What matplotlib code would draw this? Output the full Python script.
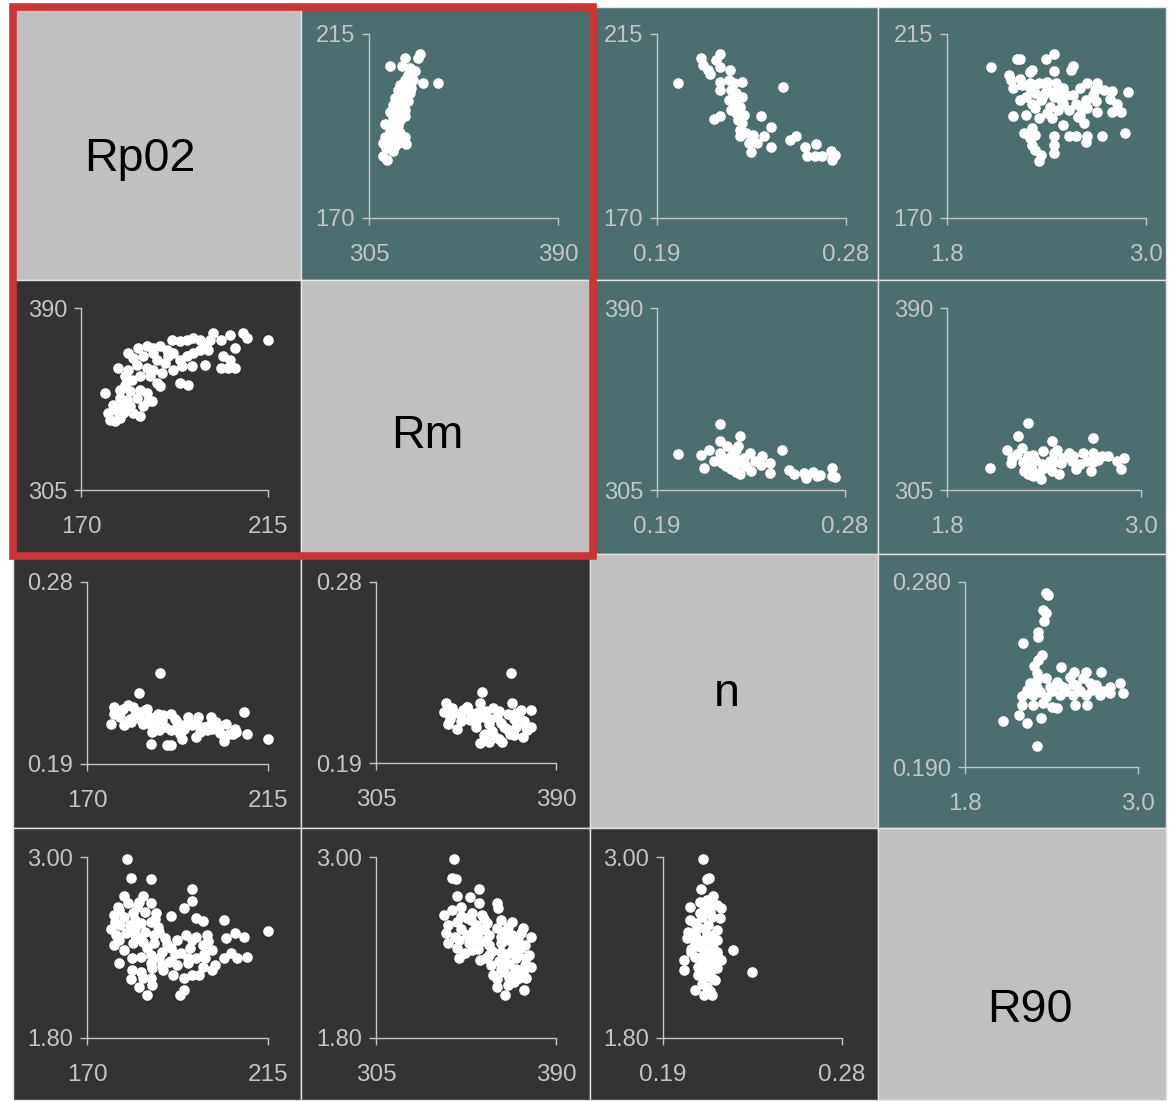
import matplotlib
matplotlib.use("Agg")
import matplotlib.pyplot as plt
from matplotlib.patches import Rectangle

plt.rcParams["font.family"] = ["Liberation Sans", "DejaVu Sans"]

# variables on the diagonal and their axis ranges
names = ["Rp02", "Rm", "n", "R90"]
lims = {"Rp02": (170, 215), "Rm": (305, 390), "n": (0.19, 0.28), "R90": (1.8, 3.0)}
xtick_text = {"Rp02": ["170", "215"], "Rm": ["305", "390"], "n": ["0.19", "0.28"], "R90": ["1.8", "3.0"]}
ytick_text = {"Rp02": ["170", "215"], "Rm": ["305", "390"], "n": ["0.19", "0.28"], "R90": ["1.80", "3.00"]}

# ---- panel data ----
# row Rp02
p01_rm = [327.8, 327.0, 321.0, 314.6, 320.0, 323.3, 325.5, 322.5, 321.0, 324.8,
          329.3, 336.0, 318.8, 321.8, 324.0, 318.0, 320.3, 323.3, 316.5, 319.5,
          322.5, 315.8, 318.8, 321.0, 314.3, 317.3, 321.0, 315.8, 312.0, 315.0,
          317.3, 314.3, 318.8, 312.0, 315.8, 321.0, 311.3, 315.0, 318.0, 321.8,
          312.8, 315.8, 311.3, 313.1, 316.5, 318.8, 318.0]
p01_rp02 = [210.1, 209.1, 209.2, 207.1, 207.1, 206.6, 206.0, 205.0, 203.8, 203.8,
            203.1, 203.1, 202.5, 202.1, 201.7, 201.3, 200.5, 200.5, 199.3, 198.9,
            198.5, 197.7, 197.3, 196.4, 196.0, 195.6, 195.0, 194.4, 193.0, 192.8,
            192.0, 191.2, 190.7, 189.9, 189.9, 189.9, 188.3, 188.7, 188.3, 188.1,
            187.1, 186.3, 185.2, 184.2, 187.5, 194.0, 192.4]

p02_n = [0.1999, 0.2109, 0.2118, 0.2145, 0.2153, 0.2180, 0.2198, 0.2201, 0.2247, 0.2198,
         0.2198, 0.2242, 0.2269, 0.2304, 0.2251, 0.2277, 0.2304, 0.2242, 0.2269, 0.2295,
         0.2251, 0.2277, 0.2313, 0.2171, 0.2201, 0.2304, 0.2393, 0.2442, 0.2295, 0.2322,
         0.2357, 0.2295, 0.2339, 0.2375, 0.2410, 0.2348, 0.2442, 0.2499, 0.2534, 0.2561,
         0.2605, 0.2614, 0.2658, 0.2650, 0.2685, 0.2729, 0.2738, 0.2747, 0.2733, 0.2277,
         0.2260, 0.2286]
p02_rp02 = [203.0, 209.2, 207.3, 206.1, 205.1, 208.7, 210.0, 206.9, 206.1, 203.3,
            201.3, 203.7, 202.9, 203.3, 201.3, 200.5, 199.7, 198.8, 198.0, 197.2,
            196.4, 195.6, 195.2, 194.2, 195.0, 193.2, 195.0, 192.2, 191.6, 190.8,
            190.4, 190.0, 188.3, 188.3, 190.0, 186.1, 187.3, 202.1, 189.1, 190.1,
            187.3, 185.1, 188.2, 185.1, 185.1, 186.3, 185.1, 185.5, 184.1, 198.8,
            199.7, 194.0]

p03_r90 = [2.067, 2.220, 2.243, 2.395, 2.445, 2.557, 2.546, 2.310, 2.299, 2.445,
           2.175, 2.186, 2.243, 2.198, 2.254, 2.299, 2.355, 2.400, 2.456, 2.501,
           2.602, 2.647, 2.703, 2.692, 2.748, 2.793, 2.894, 2.782, 2.827, 2.849,
           2.793, 2.703, 2.647, 2.636, 2.580, 2.557, 2.490, 2.445, 2.389, 2.333,
           2.276, 2.243, 2.310, 2.366, 2.422, 2.467, 2.535, 2.400, 2.333, 2.276,
           2.198, 2.355, 2.434, 2.501, 2.591, 2.625, 2.310, 2.265, 2.299, 2.333,
           2.310, 2.333, 2.366, 2.355, 2.445, 2.445, 2.445, 2.535, 2.580, 2.647,
           2.636, 2.737, 2.872, 2.602, 2.479,
           2.330, 2.400, 2.450, 2.520, 2.300, 2.370, 2.500, 2.600, 2.700, 2.680]
p03_rp02 = [206.9, 208.9, 208.9, 208.9, 210.2, 207.1, 206.1, 206.1, 205.7, 206.0,
            204.9, 203.7, 204.1, 201.9, 202.5, 202.9, 203.0, 203.3, 202.9, 201.9,
            201.9, 203.0, 202.9, 201.3, 201.3, 201.1, 200.9, 199.2, 198.0, 196.0,
            196.0, 196.0, 196.8, 198.8, 198.0, 200.1, 198.8, 199.7, 200.5, 200.5,
            199.7, 198.8, 198.0, 198.8, 197.2, 196.4, 196.4, 195.6, 196.8, 195.2,
            195.0, 194.4, 194.4, 192.8, 194.8, 193.2, 192.0, 190.8, 189.6, 190.4,
            187.9, 186.7, 185.5, 183.9, 190.0, 187.9, 185.9, 190.0, 190.0, 190.0,
            188.7, 190.0, 190.9, 195.2, 201.3,
            202.5, 201.5, 200.8, 200.2, 201.8, 199.4, 197.8, 197.5, 198.5, 200.0]

# row Rm
p10_rp02 = [215.0, 209.0, 210.0, 205.8, 203.8, 201.8, 201.0, 198.6, 197.0, 195.4,
            193.8, 191.8, 207.0, 204.2, 205.8, 203.8, 207.0, 205.4, 199.8, 200.6,
            198.6, 197.0, 195.4, 194.2, 196.6, 193.8, 195.8, 192.2, 190.6, 189.0,
            187.4, 185.8, 183.8, 181.4, 182.6, 179.0, 185.0, 188.2, 190.2, 192.2,
            189.4, 187.4, 185.8, 183.4, 181.4, 180.6, 182.2, 184.2, 186.6, 188.2,
            189.0, 180.6, 179.4, 181.8, 184.2, 185.8, 186.2, 187.0, 183.4, 181.0,
            179.4, 175.8, 177.8, 179.8, 181.8, 185.0, 184.2, 182.6, 180.2, 178.6,
            176.6, 177.0, 178.2, 179.4, 181.4, 191.0, 193.8, 200.2, 187.4]
p10_rm = [375.2, 378.3, 376.0, 377.6, 375.2, 378.3, 375.2, 375.2, 376.0, 375.2,
          374.4, 375.2, 371.3, 367.4, 365.9, 362.0, 362.0, 362.0, 363.5, 370.5,
          370.5, 369.0, 367.4, 362.8, 362.8, 355.0, 354.2, 369.0, 370.5, 372.1,
          371.3, 372.1, 371.3, 369.0, 366.7, 362.0, 367.4, 365.9, 364.3, 361.2,
          359.7, 361.2, 362.0, 363.5, 361.2, 358.1, 356.5, 358.1, 358.1, 355.0,
          353.4, 354.2, 351.9, 351.1, 351.9, 350.3, 346.4, 346.4, 348.0, 347.2,
          348.0, 350.3, 344.9, 344.1, 344.1, 344.1, 339.4, 341.0, 341.0, 341.7,
          341.0, 337.9, 337.1, 338.6, 342.5, 367.4, 365.9, 372.9, 369.0]

p12_n = [0.2000, 0.2111, 0.2125, 0.2150, 0.2173, 0.2200, 0.2200, 0.2200, 0.2209, 0.2236,
         0.2254, 0.2254, 0.2280, 0.2298, 0.2298, 0.2289, 0.2325, 0.2343, 0.2352, 0.2370,
         0.2405, 0.2397, 0.2441, 0.2441, 0.2500, 0.2530, 0.2557, 0.2602, 0.2611, 0.2646,
         0.2664, 0.2682, 0.2736, 0.2736, 0.2754, 0.2289, 0.2271, 0.2316,
         0.2215, 0.2240, 0.2265, 0.2230, 0.2310, 0.2280]
p12_rm = [322.0, 321.3, 315.1, 323.9, 318.5, 336.0, 327.8, 322.3, 317.7, 325.4,
          320.8, 314.6, 323.9, 330.1, 312.3, 319.2, 316.1, 322.3, 313.8, 318.5,
          320.8, 316.9, 317.4, 313.0, 323.9, 314.3, 312.3, 313.0, 310.7, 313.4,
          311.5, 311.8, 315.4, 311.5, 311.2, 325.4, 316.1, 320.0,
          320.0, 318.0, 322.0, 316.0, 317.0, 313.5]

p13_r90 = [2.069, 2.172, 2.195, 2.241, 2.299, 2.264, 2.299, 2.322, 2.333, 2.368,
           2.345, 2.391, 2.437, 2.448, 2.460, 2.448, 2.494, 2.506, 2.552, 2.575,
           2.598, 2.644, 2.667, 2.701, 2.701, 2.690, 2.736, 2.793, 2.851, 2.897,
           2.874, 2.414, 2.483, 2.230, 2.276, 2.379,
           2.200, 2.270, 2.330, 2.390, 2.460, 2.520, 2.580, 2.620, 2.700, 2.760,
           2.330, 2.300, 2.400]
p13_rm = [315.1, 323.9, 317.7, 330.1, 336.3, 324.7, 320.8, 316.1, 311.5, 313.0,
          319.2, 323.1, 318.5, 327.8, 322.3, 313.8, 312.3, 317.7, 322.3, 318.5,
          314.6, 322.3, 318.5, 329.3, 322.3, 313.8, 319.2, 320.8, 318.5, 320.0,
          314.9, 316.1, 323.9, 321.6, 313.8, 310.0,
          320.0, 318.0, 321.5, 317.0, 318.0, 320.0, 321.0, 317.0, 318.0, 321.0,
          314.0, 312.5, 315.5]

# row n
p20_rp02 = [188.1, 182.9, 175.9, 176.8, 176.8, 178.3, 179.2, 180.1, 181.5, 182.0,
            183.4, 184.3, 185.3, 186.2, 185.8, 187.6, 188.6, 189.5, 190.9, 190.9,
            192.3, 193.7, 194.2, 195.1, 196.1, 197.0, 197.5, 198.9, 200.8, 201.2,
            202.6, 204.0, 204.5, 205.4, 206.8, 206.4, 209.0, 209.9, 215.0, 186.0,
            190.0, 190.9, 180.6, 178.3, 186.7, 192.3, 199.8,
            179.0, 183.0, 187.0, 181.0, 184.0, 189.0, 192.0, 194.0, 197.0, 200.0,
            202.0, 203.0, 207.0, 188.0, 193.0, 198.0, 177.0, 185.0]
p20_n = [0.2348, 0.2249, 0.2099, 0.2182, 0.2149, 0.2133, 0.2091, 0.2191, 0.2182, 0.2141,
         0.2116, 0.2166, 0.2133, 0.2058, 0.2091, 0.2149, 0.2116, 0.2083, 0.2066, 0.2149,
         0.2108, 0.2025, 0.2074, 0.2133, 0.2091, 0.2033, 0.2133, 0.2083, 0.2133, 0.2074,
         0.2074, 0.2016, 0.2099, 0.2049, 0.2074, 0.2049, 0.2157, 0.2046, 0.2025, 0.2000,
         0.1996, 0.1996, 0.2124, 0.2157, 0.2099, 0.2074, 0.2066,
         0.2170, 0.2155, 0.2130, 0.2110, 0.2100, 0.2140, 0.2125, 0.2095, 0.2105, 0.2090,
         0.2110, 0.2055, 0.2060, 0.2070, 0.2050, 0.2060, 0.2160, 0.2170]

p21_rm = [368.8, 354.9, 337.2, 338.1, 340.8, 339.0, 343.4, 345.2, 347.9, 349.6,
          352.3, 353.2, 354.1, 355.8, 354.1, 356.7, 358.5, 360.3, 361.1, 362.0,
          364.7, 365.6, 367.3, 368.2, 369.1, 370.0, 370.9, 372.7, 373.5, 374.4,
          376.2, 378.0, 378.0, 358.5, 346.1, 351.4,
          342.0, 345.0, 350.0, 352.0, 357.0, 359.0, 363.0, 364.0, 367.0, 371.0,
          375.0, 360.0, 356.0, 363.0, 370.0, 376.0, 340.0, 348.0]
p21_n = [0.2349, 0.2251, 0.2154, 0.2196, 0.2171, 0.2095, 0.2070, 0.2137, 0.2179, 0.2112,
         0.2079, 0.2154, 0.2196, 0.2129, 0.1999, 0.2045, 0.2095, 0.2171, 0.2029, 0.2129,
         0.2004, 0.2079, 0.2145, 0.2045, 0.2196, 0.2120, 0.2079, 0.2129, 0.2162, 0.2029,
         0.2062, 0.2079, 0.2162, 0.2004, 0.2162, 0.2129,
         0.2150, 0.2110, 0.2150, 0.2110, 0.2160, 0.2120, 0.2160, 0.2100, 0.2070, 0.2150,
         0.2110, 0.2060, 0.2040, 0.2020, 0.2040, 0.2080, 0.2120, 0.2180]

p23_r90 = [2.361, 2.377, 2.342, 2.361, 2.347, 2.308, 2.308, 2.199, 2.331, 2.278,
           2.296, 2.469, 2.555, 2.638, 2.746, 2.250, 2.296, 2.365, 2.435, 2.527,
           2.619, 2.665, 2.573, 2.481, 2.389, 2.296, 2.227, 2.192, 2.273, 2.365,
           2.458, 2.550, 2.642, 2.735, 2.804, 2.873, 2.896, 2.804, 2.192, 2.273,
           2.342, 2.435, 2.400, 2.562, 2.647, 2.065, 2.176, 2.232, 2.324, 2.301,
           2.712, 2.308,
           2.250, 2.320, 2.400, 2.500, 2.600, 2.680, 2.760, 2.450, 2.550]
p23_n = [0.2746, 0.2738, 0.2665, 0.2648, 0.2608, 0.2559, 0.2531, 0.2505, 0.2445, 0.2391,
         0.2356, 0.2385, 0.2364, 0.2364, 0.2364, 0.2307, 0.2323, 0.2331, 0.2315, 0.2339,
         0.2331, 0.2307, 0.2299, 0.2291, 0.2291, 0.2282, 0.2274, 0.2245, 0.2250, 0.2242,
         0.2250, 0.2250, 0.2250, 0.2250, 0.2258, 0.2307, 0.2258, 0.2291, 0.2201, 0.2201,
         0.2209, 0.2185, 0.2193, 0.2201, 0.2201, 0.2123, 0.2152, 0.2112, 0.2136, 0.2003,
         0.2299, 0.2421,
         0.2260, 0.2265, 0.2268, 0.2270, 0.2272, 0.2275, 0.2270, 0.2300, 0.2305]

# row R90
p30_rp02 = [179.9, 180.9, 185.9, 196.1, 179.2, 183.9, 185.9, 196.1, 194.2, 177.8,
            180.1, 182.5, 176.8, 179.2, 181.5, 184.3, 187.2, 190.9, 197.0, 198.9,
            204.0, 175.9, 178.3, 180.6, 183.4, 185.8, 187.6, 177.3, 179.7, 182.0,
            184.3, 186.7, 176.8, 179.2, 181.5, 183.9, 186.7, 189.5, 192.3, 194.7,
            197.0, 199.8, 204.5, 206.8, 209.0, 215.0, 181.1, 183.4, 185.8, 188.6,
            190.9, 193.3, 195.6, 198.9, 201.2, 204.0, 205.9, 207.3, 209.9, 181.1,
            183.4, 186.2, 188.6, 191.4, 194.2, 196.1, 197.9, 198.9, 201.2, 201.7,
            182.9, 186.2, 185.0, 193.1, 194.0, 185.8, 190.4, 192.3, 197.0, 195.1,
            199.3,
            177.0, 182.0, 187.0, 178.0, 183.0, 178.0, 183.0, 188.0, 182.0, 185.0,
            190.0, 188.0, 191.0, 195.0, 199.0, 200.0, 196.0, 192.0, 186.0, 189.0,
            184.0, 181.0, 178.0]
p30_r90 = [2.985, 2.861, 2.853, 2.791, 2.742, 2.742, 2.692, 2.707, 2.663, 2.670,
           2.692, 2.670, 2.615, 2.604, 2.626, 2.637, 2.626, 2.610, 2.593, 2.575,
           2.582, 2.522, 2.549, 2.549, 2.560, 2.571, 2.538, 2.483, 2.494, 2.483,
           2.505, 2.483, 2.417, 2.384, 2.428, 2.439, 2.428, 2.461, 2.450, 2.483,
           2.472, 2.483, 2.461, 2.494, 2.472, 2.509, 2.328, 2.339, 2.351, 2.373,
           2.395, 2.362, 2.395, 2.417, 2.384, 2.328, 2.362, 2.328, 2.335, 2.251,
           2.240, 2.262, 2.284, 2.218, 2.196, 2.218, 2.218, 2.273, 2.251, 2.284,
           2.141, 2.152, 2.082, 2.082, 2.119, 2.196, 2.306, 2.284, 2.328, 2.295,
           2.328,
           2.570, 2.580, 2.590, 2.650, 2.700, 2.450, 2.460, 2.500, 2.530, 2.400,
           2.420, 2.330, 2.310, 2.330, 2.360, 2.440, 2.450, 2.360, 2.300, 2.250,
           2.200, 2.190, 2.300]

p31_rm = [342.0, 340.8, 342.9, 353.5, 343.4, 349.6, 353.5, 362.0, 362.4, 337.2,
          340.8, 345.2, 350.5, 354.9, 363.8, 369.1, 339.0, 343.4, 347.9, 352.3,
          357.6, 362.0, 367.3, 374.4, 378.0, 338.1, 342.5, 347.9, 353.2, 358.5,
          363.8, 369.1, 373.5, 339.0, 343.4, 348.7, 354.1, 358.5, 363.8, 369.1,
          375.3, 377.1, 344.3, 354.1, 358.5, 363.8, 369.1, 373.5, 359.4, 365.6,
          370.9, 375.3, 378.0, 360.3, 365.6, 370.0, 374.4, 362.0, 367.3, 372.7,
          365.9, 374.8, 347.0, 350.5,
          345.0, 350.0, 356.0, 345.0, 351.0, 356.0, 366.0, 372.0, 344.0, 351.0,
          357.0, 366.0, 372.0, 353.0, 360.0, 367.0, 372.0, 376.0, 363.0, 368.0,
          371.0, 364.0, 357.0, 368.0, 362.0, 376.0, 370.0]
p31_r90 = [2.985, 2.861, 2.853, 2.791, 2.742, 2.736, 2.692, 2.698, 2.659, 2.615,
           2.648, 2.670, 2.626, 2.615, 2.582, 2.566, 2.549, 2.571, 2.593, 2.549,
           2.560, 2.527, 2.538, 2.527, 2.472, 2.494, 2.472, 2.483, 2.494, 2.483,
           2.472, 2.483, 2.494, 2.428, 2.395, 2.428, 2.439, 2.417, 2.428, 2.439,
           2.417, 2.351, 2.328, 2.317, 2.351, 2.373, 2.384, 2.395, 2.284, 2.306,
           2.328, 2.284, 2.273, 2.218, 2.240, 2.229, 2.240, 2.141, 2.152, 2.196,
           2.082, 2.115, 2.362, 2.384,
           2.610, 2.580, 2.590, 2.520, 2.510, 2.520, 2.510, 2.460, 2.450, 2.450,
           2.450, 2.450, 2.420, 2.390, 2.380, 2.360, 2.350, 2.330, 2.310, 2.290,
           2.260, 2.260, 2.330, 2.200, 2.190, 2.200, 2.170]

p32_n = [0.2102, 0.2119, 0.2132, 0.2093, 0.2152, 0.2035, 0.2085, 0.2119, 0.2169, 0.2194,
         0.2035, 0.2085, 0.2135, 0.2186, 0.2026, 0.2077, 0.2127, 0.2169, 0.2021, 0.2068,
         0.2119, 0.2169, 0.2043, 0.2085, 0.2135, 0.2169, 0.2250, 0.2004, 0.2060, 0.2102,
         0.2152, 0.2194, 0.2004, 0.2077, 0.2119, 0.2169, 0.2349, 0.2077, 0.2119, 0.2161,
         0.2060, 0.2119, 0.2105, 0.2144, 0.2043, 0.2144,
         0.2095, 0.2145, 0.2060, 0.2110, 0.2150, 0.2090, 0.2130, 0.2060, 0.2110, 0.2150,
         0.2085, 0.2130, 0.2175, 0.2095, 0.2140, 0.2100, 0.2145, 0.2095, 0.2135, 0.2110,
         0.2150, 0.2060]
p32_r90 = [2.989, 2.857, 2.861, 2.791, 2.742, 2.670, 2.703, 2.714, 2.681, 2.659,
           2.582, 2.626, 2.637, 2.593, 2.505, 2.538, 2.549, 2.516, 2.461, 2.472,
           2.483, 2.450, 2.390, 2.406, 2.417, 2.373, 2.384, 2.317, 2.339, 2.339,
           2.351, 2.317, 2.251, 2.273, 2.284, 2.262, 2.240, 2.218, 2.218, 2.185,
           2.119, 2.141, 2.082, 2.082, 2.373, 2.306,
           2.600, 2.600, 2.560, 2.520, 2.480, 2.440, 2.450, 2.420, 2.380, 2.400,
           2.330, 2.310, 2.340, 2.270, 2.250, 2.200, 2.200, 2.160, 2.110, 2.660,
           2.690, 2.500]

# (row, col) -> x values, y values
panels = {
    (0, 1): (p01_rm, p01_rp02), (0, 2): (p02_n, p02_rp02), (0, 3): (p03_r90, p03_rp02),
    (1, 0): (p10_rp02, p10_rm), (1, 2): (p12_n, p12_rm), (1, 3): (p13_r90, p13_rm),
    (2, 0): (p20_rp02, p20_n), (2, 1): (p21_rm, p21_n), (2, 3): (p23_r90, p23_n),
    (3, 0): (p30_rp02, p30_r90), (3, 1): (p31_rm, p31_r90), (3, 2): (p32_n, p32_r90),
}

# ---- layout in pixels ----
W, H = 1169, 1101
col_edges = [13, 301, 590, 878, 1166]
row_edges = [7, 280, 554, 828, 1100]
# axis-line boxes: left, right, top, bottom
boxes = {
    (0, 1): (369, 558, 34, 218), (0, 2): (657, 846, 34, 218), (0, 3): (947, 1146, 34, 218),
    (1, 0): (81, 268, 308, 490), (1, 2): (657, 845, 308, 490), (1, 3): (947, 1141, 308, 490),
    (2, 0): (87, 268, 582, 764), (2, 1): (376, 556, 582, 763), (2, 3): (965, 1138, 582, 767),
    (3, 0): (87, 268, 857, 1038), (3, 1): (376, 556, 857, 1038), (3, 2): (663, 842, 857, 1038),
}
label_pos = {0: (140, 171), 1: (427, 448), 2: (727, 706), 3: (1030, 1022)}

DIAG = "#c0c0c0"
UPPER = "#4b6e6e"
LOWER = "#333333"
AXC = "#c4c4c4"

fig = plt.figure(figsize=(W / 100, H / 100), dpi=100)

for i in range(4):
    for j in range(4):
        x0, x1 = col_edges[j], col_edges[j + 1]
        y0, y1 = row_edges[i], row_edges[i + 1]
        fc = DIAG if i == j else (UPPER if j > i else LOWER)
        fig.add_artist(Rectangle((x0 / W, 1 - y1 / H), (x1 - x0) / W, (y1 - y0) / H,
                                 transform=fig.transFigure, facecolor=fc,
                                 edgecolor="#e4e4e4", linewidth=1, zorder=0))

for k, name in enumerate(names):
    px, py = label_pos[k]
    fig.text(px / W, 1 - py / H, name, ha="center", va="baseline", fontsize=33.5, color="black")

for (i, j), (xs, ys) in panels.items():
    l, r, t, b = boxes[(i, j)]
    ax = fig.add_axes([l / W, 1 - b / H, (r - l) / W, (b - t) / H])
    ax.patch.set_visible(False)
    ax.scatter(xs, ys, s=58, c="white", linewidths=0, clip_on=False, zorder=3)
    xv, yv = names[j], names[i]
    ax.set_xlim(*lims[xv])
    ax.set_ylim(*lims[yv])
    ax.set_xticks(lims[xv])
    ax.set_xticklabels(xtick_text[xv])
    ax.set_yticks(lims[yv])
    ylab = ytick_text[yv]
    if (i, j) == (2, 3):
        ylab = ["0.190", "0.280"]
    ax.set_yticklabels(ylab)
    for s in ("top", "right"):
        ax.spines[s].set_visible(False)
    for s in ("left", "bottom"):
        ax.spines[s].set_color(AXC)
        ax.spines[s].set_linewidth(1)
    ax.tick_params(direction="out", length=5, width=1, color=AXC, labelcolor=AXC)
    ax.tick_params(axis="x", pad=13.5, labelsize=17.5)
    ax.tick_params(axis="y", pad=5, labelsize=17)

# red frame around the Rp02 / Rm block
fig.add_artist(Rectangle((13 / W, 1 - 556 / H), (593 - 13) / W, (556 - 7) / H,
                         transform=fig.transFigure, fill=False, edgecolor="#cf3434",
                         linewidth=5.5, zorder=10))

fig.savefig("out.png", dpi=100)
